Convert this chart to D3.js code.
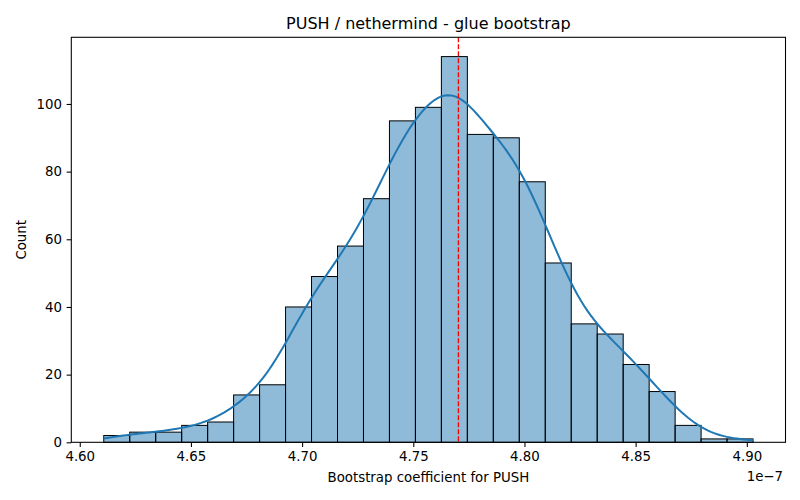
<!DOCTYPE html>
<html>
<head>
<meta charset="utf-8">
<script src="https://cdn.jsdelivr.net/npm/d3@7"></script>
<style>
  body { margin: 0; background: #fff; }
  svg { font-family: "DejaVu Sans", sans-serif; }
</style>
</head>
<body>
<svg id="chart" width="800" height="500"></svg>
<script>
// ---- data (x in units of 1e-7) ----
const binStart = 4.6108;
const binWidth = 0.01168;
const counts = [2, 3, 3, 5, 6, 14, 17, 40, 49, 58, 72, 95, 99, 114, 91, 90, 77, 53, 35, 32, 23, 15, 5, 1, 1];
const meanValue = 4.7703;
const xTicks = [4.60, 4.65, 4.70, 4.75, 4.80, 4.85, 4.90];
const yTicks = [0, 20, 40, 60, 80, 100];
const titleText = "PUSH / nethermind - glue bootstrap";
const xLabel = "Bootstrap coefficient for PUSH";
const yLabel = "Count";

const bins = counts.map((c, i) => ({ x0: binStart + i * binWidth, x1: binStart + (i + 1) * binWidth, count: c }));

const svg = d3.select("#chart");
const margin = { left: 71.3, right: 785.5, top: 37.3, bottom: 442.3 };

const dataMin = bins[0].x0, dataMax = bins[bins.length - 1].x1;
const xPad = (dataMax - dataMin) * 0.05;
const x = d3.scaleLinear().domain([dataMin - xPad, dataMax + xPad]).range([margin.left, margin.right]);
const yMax = d3.max(counts) * 1.05;
const y = d3.scaleLinear().domain([0, yMax]).range([margin.bottom, margin.top]);

// bars
svg.append("g").selectAll("rect").data(bins).join("rect")
  .attr("x", d => x(d.x0))
  .attr("y", d => y(d.count))
  .attr("width", d => x(d.x1) - x(d.x0))
  .attr("height", d => y(0) - y(d.count))
  .attr("fill", "rgba(31,119,180,0.5)")
  .attr("stroke", "#000")
  .attr("stroke-width", 1);

// KDE from binned counts (weighted Gaussian kernel, Scott's rule)
const N = d3.sum(counts);
const centers = bins.map(b => (b.x0 + b.x1) / 2);
const mu = d3.sum(centers.map((c, i) => c * counts[i])) / N;
const variance = d3.sum(centers.map((c, i) => counts[i] * (c - mu) ** 2)) / (N - 1);
const h = Math.sqrt(variance) * Math.pow(N, -0.2);
const grid = d3.range(0, 201).map(k => dataMin + (dataMax - dataMin) * k / 200);
const kde = grid.map(g => {
  let s = 0;
  centers.forEach((c, i) => { const z = (g - c) / h; s += counts[i] * Math.exp(-0.5 * z * z); });
  return [g, s / (N * h * Math.sqrt(2 * Math.PI)) * N * binWidth];
});
svg.append("path")
  .attr("d", d3.line().x(d => x(d[0])).y(d => y(d[1]))(kde))
  .attr("fill", "none")
  .attr("stroke", "#1f77b4")
  .attr("stroke-width", 2);

// mean line
svg.append("line")
  .attr("x1", x(meanValue)).attr("x2", x(meanValue))
  .attr("y1", margin.top).attr("y2", margin.bottom)
  .attr("stroke", "red").attr("stroke-width", 1.33)
  .attr("stroke-dasharray", "4.9,2.1");

// axes
const xAxis = svg.append("g").attr("transform", `translate(0,${margin.bottom})`)
  .call(d3.axisBottom(x).tickValues(xTicks).tickFormat(d3.format(".2f")).tickSizeOuter(0).tickSize(4.67).tickPadding(4.67));
const yAxis = svg.append("g").attr("transform", `translate(${margin.left},0)`)
  .call(d3.axisLeft(y).tickValues(yTicks).tickSizeOuter(0).tickSize(4.67).tickPadding(4.67));
[xAxis, yAxis].forEach(a => {
  a.selectAll("text").attr("font-size", "13.33px").attr("fill", "#000").attr("font-family", "DejaVu Sans");
  a.selectAll("line").attr("stroke", "#000").attr("stroke-width", 1.07);
  a.select(".domain").remove();
});

// spines
svg.append("rect")
  .attr("x", margin.left).attr("y", margin.top)
  .attr("width", margin.right - margin.left).attr("height", margin.bottom - margin.top)
  .attr("fill", "none").attr("stroke", "#000").attr("stroke-width", 1.07);

// texts
svg.append("text").attr("x", (margin.left + margin.right) / 2).attr("y", 29)
  .attr("text-anchor", "middle").attr("font-size", "16px").text(titleText);
svg.append("text").attr("x", (margin.left + margin.right) / 2).attr("y", 482)
  .attr("text-anchor", "middle").attr("font-size", "13.33px").text(xLabel);
svg.append("text").attr("transform", `translate(26,${(margin.top + margin.bottom) / 2}) rotate(-90)`)
  .attr("text-anchor", "middle").attr("font-size", "13.33px").text(yLabel);
svg.append("text").attr("x", 783).attr("y", 481)
  .attr("text-anchor", "end").attr("font-size", "13.33px").text("1e\u22127");
</script>
</body>
</html>
